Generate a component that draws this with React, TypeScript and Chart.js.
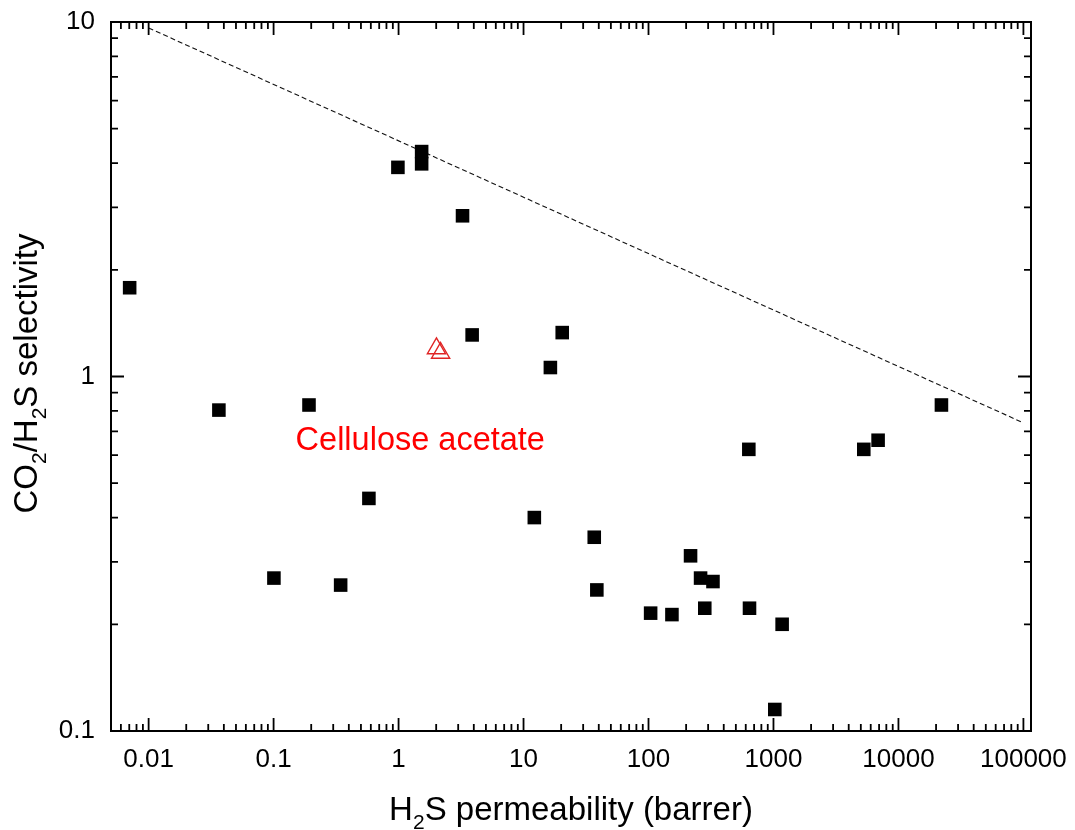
import React, { useEffect, useRef } from 'react';
import { Chart, registerables } from 'chart.js';

Chart.register(...registerables);

const FONT = '"Liberation Sans", Arial, Helvetica, sans-serif';

// Axis ranges
const xMin = 0.005;
const xMax = 115000;
const yMin = 0.1;
const yMax = 10;

// Tick labels
const xMajorTicks = [0.01, 0.1, 1, 10, 100, 1000, 10000, 100000];
const xTickLabels = ['0.01', '0.1', '1', '10', '100', '1000', '10000', '100000'];
const yMajorTicks = [0.1, 1, 10];
const yTickLabels = ['0.1', '1', '10'];

// Literature membranes (black squares)
const permeability = [
  0.00705, 0.0365, 0.1006, 0.192, 0.344, 0.579, 0.988, 1.53, 1.53, 3.25,
  3.88, 16.4, 20.4, 12.2, 36.8, 38.6, 104, 154, 217, 261,
  328, 282, 643, 1173, 1025, 635, 5281, 6874, 22080,
];
const selectivity = [
  1.78, 0.804, 0.27, 0.831, 0.258, 0.453, 3.89, 4.31, 3.98, 2.84,
  1.31, 1.06, 1.33, 0.4, 0.352, 0.25, 0.215, 0.213, 0.312, 0.27,
  0.264, 0.222, 0.222, 0.2, 0.115, 0.623, 0.623, 0.661, 0.831,
];

// Cellulose acetate (red open triangles)
const caPermeability = [2.01, 2.17];
const caSelectivity = [1.2, 1.165];

// Upper bound (dashed line)
const boundX = [0.01, 100000];
const boundY = [9.62, 0.74];

// Annotation
const annotationText = 'Cellulose acetate';
const annotationX = 0.15;
const annotationY = 0.62;

// Axis titles (text, subscript flag)
const xTitleParts: [string, boolean][] = [['H', false], ['2', true], ['S permeability (barrer)', false]];
const yTitleParts: [string, boolean][] = [['CO', false], ['2', true], ['/H', false], ['2', true], ['S selectivity', false]];

function sameValue(a: number, b: number) {
  return Math.abs(Math.log10(a) - Math.log10(b)) < 1e-6;
}

function allLogTicks(min: number, max: number) {
  const out: number[] = [];
  const e0 = Math.floor(Math.log10(min)) - 1;
  const e1 = Math.ceil(Math.log10(max)) + 1;
  for (let e = e0; e <= e1; e++) {
    for (let m = 1; m <= 9; m++) {
      const v = Number((m * Math.pow(10, e)).toPrecision(10));
      if (v >= min * 0.999999 && v <= max * 1.000001) out.push(v);
    }
  }
  return out;
}

function labelFor(value: number, majors: number[], labels: string[]) {
  for (let i = 0; i < majors.length; i++) {
    if (sameValue(value, majors[i])) return labels[i];
  }
  return '';
}

function isMajor(value: number, majors: number[]) {
  return majors.some((m) => sameValue(value, m));
}

function drawParts(ctx: CanvasRenderingContext2D, parts: [string, boolean][], size: number, subSize: number, subDrop: number) {
  const widths = parts.map(([t, sub]) => {
    ctx.font = `${sub ? subSize : size}px ${FONT}`;
    return ctx.measureText(t).width;
  });
  const total = widths.reduce((a, b) => a + b, 0);
  let x = -total / 2;
  parts.forEach(([t, sub], i) => {
    ctx.font = `${sub ? subSize : size}px ${FONT}`;
    ctx.fillText(t, x, sub ? subDrop : 0);
    x += widths[i];
  });
}

const framePlugin = {
  id: 'frameAndText',
  afterDatasetsDraw(chart: any) {
    const { ctx, chartArea: a, scales } = chart;
    const xs = scales.x;
    const ys = scales.y;
    ctx.save();

    // annotation
    ctx.fillStyle = '#ff0000';
    ctx.font = `32.5px ${FONT}`;
    ctx.textAlign = 'left';
    ctx.textBaseline = 'alphabetic';
    ctx.fillText(annotationText, xs.getPixelForValue(annotationX), ys.getPixelForValue(annotationY));

    // frame
    ctx.strokeStyle = '#000';
    ctx.lineWidth = 2;
    ctx.strokeRect(a.left, a.top, a.right - a.left, a.bottom - a.top);

    // inward ticks on all four sides
    ctx.lineWidth = 1.8;
    xs.ticks.forEach((t: any) => {
      const px = xs.getPixelForValue(t.value);
      const len = isMajor(t.value, xMajorTicks) ? 13 : 7;
      ctx.beginPath();
      ctx.moveTo(px, a.bottom);
      ctx.lineTo(px, a.bottom - len);
      ctx.moveTo(px, a.top);
      ctx.lineTo(px, a.top + len);
      ctx.stroke();
    });
    ys.ticks.forEach((t: any) => {
      const py = ys.getPixelForValue(t.value);
      const len = isMajor(t.value, yMajorTicks) ? 13 : 7;
      ctx.beginPath();
      ctx.moveTo(a.left, py);
      ctx.lineTo(a.left + len, py);
      ctx.moveTo(a.right, py);
      ctx.lineTo(a.right - len, py);
      ctx.stroke();
    });

    // axis titles
    ctx.fillStyle = '#000';
    ctx.textAlign = 'left';
    ctx.textBaseline = 'alphabetic';
    ctx.save();
    ctx.translate((a.left + a.right) / 2, 820);
    drawParts(ctx, xTitleParts, 33, 21, 9);
    ctx.restore();

    ctx.save();
    ctx.translate(37, (a.top + a.bottom) / 2 - 3);
    ctx.rotate(-Math.PI / 2);
    drawParts(ctx, yTitleParts, 33, 21, 9);
    ctx.restore();

    ctx.restore();
  },
};

export default function App() {
  const canvasRef = useRef<HTMLCanvasElement | null>(null);

  useEffect(() => {
    if (!canvasRef.current) return;
    const xTickValues = allLogTicks(xMin, xMax);
    const yTickValues = allLogTicks(yMin, yMax);

    const chart = new Chart(canvasRef.current, {
      type: 'scatter',
      data: {
        datasets: [
          {
            label: 'Membranes',
            data: permeability.map((x, i) => ({ x, y: selectivity[i] })),
            pointStyle: 'rect',
            pointRadius: 9.6,
            pointBackgroundColor: '#000',
            pointBorderWidth: 0,
            showLine: false,
          } as any,
          {
            label: 'Cellulose acetate',
            data: caPermeability.map((x, i) => ({ x, y: caSelectivity[i] })),
            pointStyle: 'triangle',
            pointRadius: 10.5,
            pointBackgroundColor: 'rgba(0,0,0,0)',
            pointBorderColor: '#e02424',
            pointBorderWidth: 1.4,
            showLine: false,
          } as any,
          {
            label: 'Upper bound',
            data: boundX.map((x, i) => ({ x, y: boundY[i] })),
            showLine: true,
            borderColor: '#111',
            borderWidth: 1.1,
            borderDash: [5, 3],
            pointRadius: 0,
            fill: false,
          } as any,
        ],
      },
      options: {
        responsive: false,
        animation: false,
        devicePixelRatio: 1,
        layout: { padding: { left: 0, top: 22, right: 44, bottom: 0 } },
        plugins: {
          legend: { display: false },
          tooltip: { enabled: false },
        },
        scales: {
          x: {
            type: 'logarithmic',
            position: 'bottom',
            min: xMin,
            max: xMax,
            grid: { display: false, drawTicks: false },
            border: { display: false },
            afterBuildTicks: (scale: any) => {
              scale.ticks = xTickValues.map((v) => ({ value: v, major: isMajor(v, xMajorTicks) }));
            },
            afterFit: (scale: any) => {
              scale.height = 99;
              scale.paddingLeft = 0;
              scale.paddingRight = 0;
            },
            ticks: {
              autoSkip: false,
              maxRotation: 0,
              minRotation: 0,
              padding: 13,
              color: '#000',
              font: { family: FONT, size: 26 },
              callback: (value: any) => labelFor(Number(value), xMajorTicks, xTickLabels),
            },
          },
          y: {
            type: 'logarithmic',
            position: 'left',
            min: yMin,
            max: yMax,
            grid: { display: false, drawTicks: false },
            border: { display: false },
            afterBuildTicks: (scale: any) => {
              scale.ticks = yTickValues.map((v) => ({ value: v, major: isMajor(v, yMajorTicks) }));
            },
            afterFit: (scale: any) => {
              scale.width = 111;
              scale.paddingTop = 0;
              scale.paddingBottom = 0;
            },
            ticks: {
              autoSkip: false,
              padding: 16,
              color: '#000',
              font: { family: FONT, size: 26 },
              callback: (value: any) => labelFor(Number(value), yMajorTicks, yTickLabels),
            },
          },
        },
      } as any,
      plugins: [framePlugin],
    });

    return () => chart.destroy();
  }, []);

  return (
    <div style={{ position: 'absolute', left: 0, top: 0, width: 1075, height: 830, background: '#fff' }}>
      <canvas ref={canvasRef} width={1075} height={830} style={{ display: 'block' }} />
    </div>
  );
}
